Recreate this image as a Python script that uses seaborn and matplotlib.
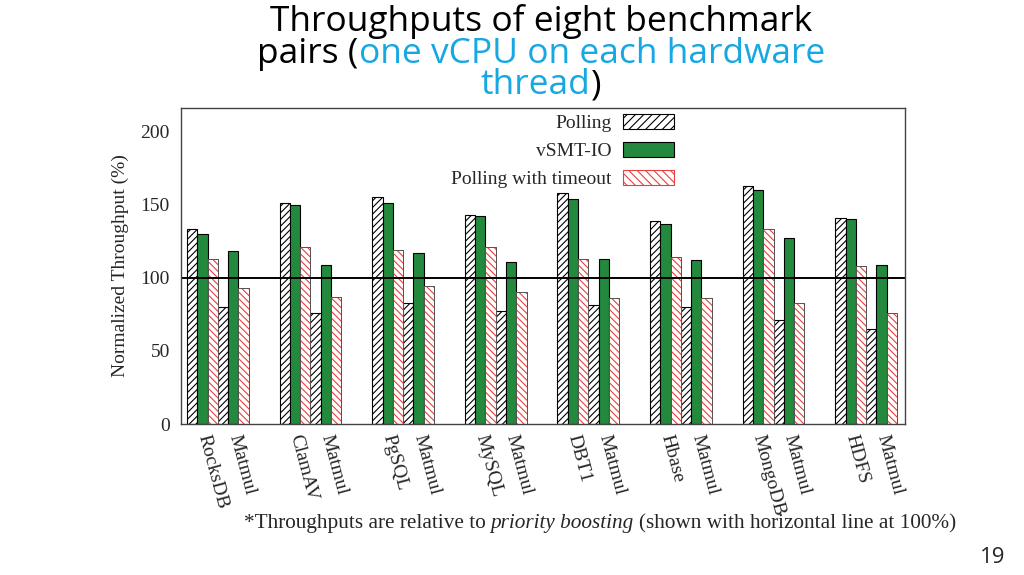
import numpy as np
import pandas as pd
import seaborn as sns
import matplotlib.pyplot as plt
from matplotlib.patches import Patch, Rectangle

apps = ["RocksDB", "ClamAV", "PgSQL", "MySQL", "DBT1", "Hbase", "MongoDB", "HDFS"]
series = ["Polling", "vSMT-IO", "Polling with timeout"]
polling_app = [133, 151, 155, 143, 158, 139, 163, 141]
vsmt_app = [130, 150, 151, 142, 154, 137, 160, 140]
timeout_app = [113, 121, 119, 121, 113, 114, 133, 108]
polling_mm = [80, 76, 83, 77, 81, 80, 71, 65]
vsmt_mm = [118, 109, 117, 111, 113, 112, 127, 109]
timeout_mm = [93, 87, 94, 90, 86, 86, 83, 76]
yticks = [0, 50, 100, 150, 200]

sns.set_style("white")
plt.rcParams["font.family"] = ["Liberation Serif", "DejaVu Serif"]
plt.rcParams["hatch.linewidth"] = 0.8

# slot positions: each pair = app (3 bars) + Matmul (3 bars), gap of 3 bars
app_pos = [9 * g + 1.5 for g in range(len(apps))]
mm_pos = [9 * g + 4.5 for g in range(len(apps))]

rows = []
for i in range(len(apps)):
    for s, v in zip(series, [polling_app[i], vsmt_app[i], timeout_app[i]]):
        rows.append({"pos": app_pos[i], "series": s, "value": v})
    for s, v in zip(series, [polling_mm[i], vsmt_mm[i], timeout_mm[i]]):
        rows.append({"pos": mm_pos[i], "series": s, "value": v})
df = pd.DataFrame(rows)

fig = plt.figure(figsize=(10.24, 5.75), dpi=100)
ax = fig.add_axes([0.1768, 0.2626, 0.707, 0.5496])

pal = {"Polling": "white", "vSMT-IO": "#23893D", "Polling with timeout": "white"}
sns.barplot(data=df, x="pos", y="value", hue="series", hue_order=series,
            palette=pal, native_scale=True, width=1.0, errorbar=None,
            saturation=1, legend=False, ax=ax)

red = "#E8403F"
for cont, s in zip(ax.containers, series):
    for bar in cont:
        if s == "Polling":
            bar.set_hatch("/////")
            bar.set_edgecolor("black")
            bar.set_linewidth(0.8)
        elif s == "vSMT-IO":
            bar.set_edgecolor("black")
            bar.set_linewidth(0.8)
        else:
            bar.set_hatch("\\\\\\\\\\")
            bar.set_edgecolor(red)
            bar.set_linewidth(0.6)
            ax.add_patch(Rectangle(bar.get_xy(), bar.get_width(), bar.get_height(),
                                   fill=False, edgecolor="#555555", lw=0.7))

ax.axhline(100, color="black", lw=1.4)
ax.set_xlim(-0.58, 69.78)
ax.set_ylim(0, 216)
ax.set_yticks(yticks)
ax.tick_params(axis="y", labelsize=14, length=0, pad=8)
ax.set_xticks(app_pos + mm_pos)
ax.set_xticklabels(apps + ["Matmul"] * len(apps))
for lab in ax.get_xticklabels():
    lab.set_rotation(-75)
    lab.set_rotation_mode("anchor")
    lab.set_ha("left")
    lab.set_va("center")
ax.tick_params(axis="x", labelsize=14, length=0, pad=8)
ax.set_xlabel("")
ax.set_ylabel("Normalized Throughput (%)", fontsize=14, labelpad=8)
for sp in ax.spines.values():
    sp.set_color("#444444")
    sp.set_linewidth(1.0)

handles = [Patch(facecolor="white", edgecolor="black", hatch="////", lw=0.8),
           Patch(facecolor="#23893D", edgecolor="black", lw=0.8),
           Patch(facecolor="white", edgecolor=red, hatch="\\\\\\\\", lw=0.8)]
ax.legend(handles, series, loc="upper right", bbox_to_anchor=(0.702, 1.03),
          frameon=False, markerfirst=False, fontsize=14, handlelength=2.6,
          handleheight=0.8, labelspacing=0.5, borderpad=0.3, handletextpad=0.6)

# title with coloured pieces
blue = "#17A7E3"
renderer = fig.canvas.get_renderer()
W = fig.get_figwidth() * fig.dpi
H = fig.get_figheight() * fig.dpi


def color_line(parts, y_px, cx_px, **kw):
    texts = [fig.text(0, 1 - y_px / H, s, color=c, va="baseline", **kw)
             for s, c in parts]
    widths = [t.get_window_extent(renderer).width for t in texts]
    x = cx_px - sum(widths) / 2
    for t, w in zip(texts, widths):
        t.set_x(x / W)
        x += w


tkw = dict(family=["Open Sans", "DejaVu Sans"], fontsize=25.5)
color_line([("Throughputs of eight benchmark", "black")], 31, 541, **tkw)
color_line([("pairs (", "black"), ("one vCPU on each hardware", blue)], 63, 541, **tkw)
color_line([("thread", blue), (")", "black")], 94, 541, **tkw)

# footnote
fkw = dict(fontsize=15.3, va="baseline")
t_sp = fig.text(0, 0, "x x", **fkw)
t_ns = fig.text(0, 0, "xx", **fkw)
space = t_sp.get_window_extent(renderer).width - t_ns.get_window_extent(renderer).width
t_sp.remove()
t_ns.remove()
pieces = [("*Throughputs are relative to", "normal"), ("priority boosting", "italic"),
          ("(shown with horizontal line at 100%)", "normal")]
ftexts = [fig.text(0, 1 - 528 / H, s, style=st, **fkw) for s, st in pieces]
fw = [t.get_window_extent(renderer).width for t in ftexts]
x = 600 - (sum(fw) + 2 * space) / 2
for t, w in zip(ftexts, fw):
    t.set_x(x / W)
    x += w + space

fig.text(993 / W, 1 - 563 / H, "19", family=["Open Sans", "DejaVu Sans"],
         fontsize=16, ha="center", va="baseline")

fig.savefig("out.png", dpi=100)
